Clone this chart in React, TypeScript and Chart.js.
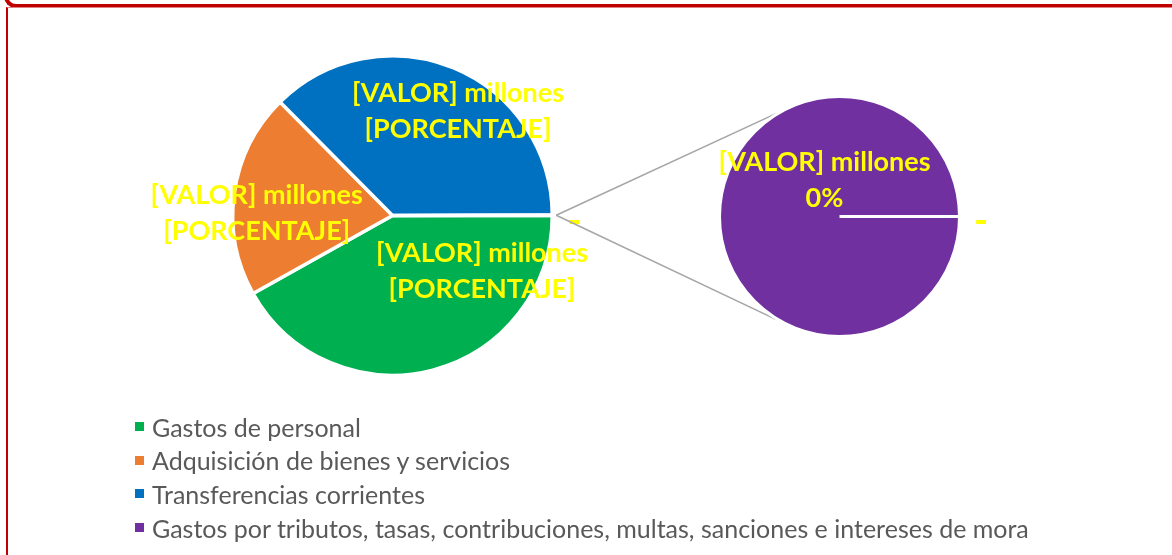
import React, { useEffect, useRef } from 'react';
import Chart from 'chart.js/auto';

// ---- data ----
const categories = [
  'Gastos de personal',
  'Adquisición de bienes y servicios',
  'Transferencias corrientes',
  'Gastos por tributos, tasas, contribuciones, multas, sanciones e intereses de mora',
];
// shares (%)
const shares = [41.9, 20.7, 37.4, 0.05];
const colors = ['#00B050', '#ED7D31', '#0070C0', '#7030A0'];
const valueText = '[VALOR] millones';
const percentText = '[PORCENTAJE]';
const zeroText = '-';
const otherLabel = 'Otro';

// main pie: first three categories + "Otro" (= sum of secondary pie)
const mainValues = [shares[0], shares[1], shares[2], shares[3]];
const secondValues = [shares[3]];

// ---- styles ----
const W = 1172;
const H = 555;
const LABEL_FONT = 27;
const DASH_FONT = 38;
const LABEL_LINE = 36;
const LABEL_COLOR = '#FFFF00';

type LabelSpec = { index: number; lines: string[]; dAngle: number; frac: number; size?: number };

const labelPlugin = (id: string, specs: LabelSpec[]) => ({
  id,
  afterDatasetsDraw(chart: any) {
    const ctx = chart.ctx;
    const arcs = chart.getDatasetMeta(0).data;
    ctx.save();
    ctx.fillStyle = LABEL_COLOR;
    ctx.textAlign = 'center';
    ctx.textBaseline = 'middle';
    specs.forEach((s) => {
      const a = arcs[s.index];
      if (!a) return;
      ctx.font = `bold ${s.size || LABEL_FONT}px Lato, "Open Sans", sans-serif`;
      const p = a.getProps(['x', 'y', 'startAngle', 'endAngle', 'outerRadius'], true);
      const ang = (p.startAngle + p.endAngle) / 2 + (s.dAngle * Math.PI) / 180;
      const cx = p.x + Math.cos(ang) * p.outerRadius * s.frac;
      const cy = p.y + Math.sin(ang) * p.outerRadius * s.frac;
      const n = s.lines.length;
      s.lines.forEach((ln, i) => ctx.fillText(ln, cx, cy + (i - (n - 1) / 2) * LABEL_LINE));
    });
    ctx.restore();
  },
});

const connectorPlugin = (getMain: () => any) => ({
  id: 'connectors',
  beforeDatasetsDraw(chart: any) {
    const main = getMain();
    if (!main) return;
    const other = main.getDatasetMeta(0).data[3];
    const target = chart.getDatasetMeta(0).data[0];
    if (!other || !target) return;
    const o = other.getProps(['x', 'y', 'startAngle', 'endAngle', 'outerRadius'], true);
    const t = target.getProps(['x', 'y', 'outerRadius'], true);
    const mid = (o.startAngle + o.endAngle) / 2;
    const sx = o.x + Math.cos(mid) * (o.outerRadius + 4);
    const sy = o.y + Math.sin(mid) * (o.outerRadius + 4);
    const ctx = chart.ctx;
    ctx.save();
    ctx.strokeStyle = '#A6A6A6';
    ctx.lineWidth = 1.6;
    [-122, 122].forEach((deg) => {
      const r = (deg * Math.PI) / 180;
      ctx.beginPath();
      ctx.moveTo(sx, sy);
      ctx.lineTo(t.x + Math.cos(r) * (t.outerRadius + 1), t.y + Math.sin(r) * (t.outerRadius + 1));
      ctx.stroke();
    });
    ctx.restore();
  },
});

export default function App() {
  const mainRef = useRef<HTMLCanvasElement>(null);
  const secRef = useRef<HTMLCanvasElement>(null);

  useEffect(() => {
    if (!mainRef.current || !secRef.current) return;
    const total = shares.reduce((a, b) => a + b, 0);
    const pct = Math.round((secondValues[0] / total) * 100) + '%';

    const mainChart = new Chart(mainRef.current, {
      type: 'pie',
      data: {
        labels: [categories[0], categories[1], categories[2], otherLabel],
        datasets: [
          {
            data: mainValues,
            backgroundColor: colors,
            borderColor: '#FFFFFF',
            borderWidth: 3.5,
          },
        ],
      },
      options: {
        responsive: false,
        animation: false,
        rotation: 90,
        layout: { padding: { left: 231, top: 54, right: W - 231 - 323, bottom: H - 54 - 323 } },
        plugins: { legend: { display: false }, tooltip: { enabled: false } },
      },
      plugins: [
        labelPlugin('mainLabels', [
          { index: 0, lines: [valueText, percentText], dAngle: -43.5, frac: 0.66 },
          { index: 1, lines: [valueText, percentText], dAngle: -7.25, frac: 0.85 },
          { index: 2, lines: [valueText, percentText], dAngle: 9.65, frac: 0.77 },
          { index: 3, lines: [zeroText], dAngle: 2, frac: 1.14, size: DASH_FONT },
        ]),
      ],
    } as any);

    const secChart = new Chart(secRef.current, {
      type: 'pie',
      data: {
        labels: [categories[3]],
        datasets: [
          {
            data: secondValues,
            backgroundColor: [colors[3]],
            borderColor: '#FFFFFF',
            borderWidth: 3,
          },
        ],
      },
      options: {
        responsive: false,
        animation: false,
        rotation: 90,
        layout: { padding: { left: 718, top: 95, right: W - 718 - 243, bottom: H - 95 - 243 } },
        plugins: { legend: { display: false }, tooltip: { enabled: false } },
      },
      plugins: [
        connectorPlugin(() => mainChart),
        labelPlugin('secLabels', [
          { index: 0, lines: [valueText, pct], dAngle: 67.4, frac: 0.325 },
          { index: 0, lines: [zeroText], dAngle: -178, frac: 1.18, size: DASH_FONT },
        ]),
      ],
    } as any);

    let alive = true;
    (document as any).fonts?.ready?.then(() => {
      if (!alive) return;
      mainChart.update();
      secChart.update();
    });

    return () => {
      alive = false;
      secChart.destroy();
      mainChart.destroy();
    };
  }, []);

  return (
    <div
      style={{
        position: 'fixed',
        left: 0,
        top: 0,
        width: W,
        height: H,
        overflow: 'hidden',
        background: '#FFFFFF',
      }}
    >
      {/* frame */}
      <div
        style={{
          position: 'absolute',
          left: 4,
          top: -40,
          right: -20,
          height: 44,
          borderLeft: '4px solid #C00000',
          borderBottom: '4px solid #C00000',
          borderBottomLeftRadius: 12,
        }}
      />
      <div
        style={{
          position: 'absolute',
          left: 6,
          top: 7,
          right: -10,
          bottom: -10,
          borderLeft: '2px solid #C00000',
          borderTop: '1px solid #E08080',
        }}
      />
      <canvas ref={mainRef} width={W} height={H} style={{ position: 'absolute', left: 0, top: 0 }} />
      <canvas ref={secRef} width={W} height={H} style={{ position: 'absolute', left: 0, top: 0 }} />
      {/* legend */}
      <div style={{ position: 'absolute', left: 135, top: 410 }}>
        {categories.map((c, i) => (
          <div
            key={c}
            style={{
              display: 'flex',
              alignItems: 'center',
              height: 33.6,
              fontFamily: 'Lato, "Open Sans", sans-serif',
              fontSize: 25,
              color: '#595959',
              whiteSpace: 'nowrap',
            }}
          >
            <span
              style={{ display: 'inline-block', width: 9, height: 9, background: colors[i], marginRight: 8 }}
            />
            <span>{c}</span>
          </div>
        ))}
      </div>
    </div>
  );
}
